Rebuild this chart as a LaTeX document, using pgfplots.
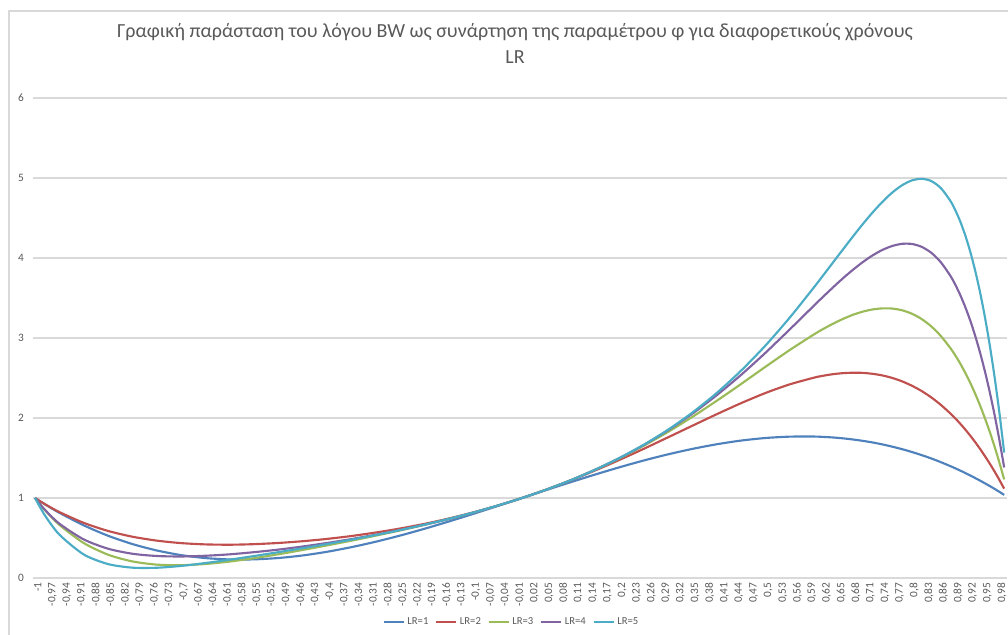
\documentclass[border=0pt]{standalone}
\usepackage{fontspec}
\setmainfont{Carlito}
\usepackage{pgfplots}
\pgfplotsset{compat=1.18}
\usepackage{pgfplotstable}
\definecolor{lr1}{HTML}{4F81BD}
\definecolor{lr2}{HTML}{C0504D}
\definecolor{lr3}{HTML}{9BBB59}
\definecolor{lr4}{HTML}{8064A2}
\definecolor{lr5}{HTML}{4BACC6}
\definecolor{txtgray}{HTML}{595959}
\definecolor{gridgray}{HTML}{D9D9D9}

% phi, BW ratio for LR=1..5
\pgfplotstableread{
phi   a     b     c     d     e
-1    1     1     1     1     1
-0.98 0.922 0.924 0.851 0.854 0.785
-0.95 0.815 0.824 0.664 0.679 0.542
-0.9  0.658 0.689 0.437 0.482 0.294
-0.85 0.528 0.588 0.291 0.366 0.174
-0.8  0.424 0.516 0.207 0.303 0.129
-0.75 0.344 0.467 0.167 0.275 0.128
-0.7  0.286 0.436 0.160 0.269 0.151
-0.65 0.249 0.420 0.175 0.278 0.187
-0.6  0.232 0.416 0.206 0.296 0.229
-0.55 0.233 0.423 0.248 0.323 0.275
-0.5  0.250 0.438 0.297 0.355 0.323
-0.45 0.282 0.460 0.351 0.394 0.373
-0.4  0.328 0.489 0.408 0.438 0.425
-0.35 0.386 0.525 0.467 0.487 0.480
-0.3  0.454 0.569 0.530 0.541 0.538
-0.25 0.531 0.619 0.595 0.601 0.600
-0.2  0.616 0.677 0.665 0.667 0.667
-0.15 0.707 0.744 0.738 0.739 0.739
-0.1  0.802 0.820 0.818 0.818 0.818
-0.05 0.900 0.905 0.905 0.905 0.905
0     1     1     1     1     1
0.05  1.100 1.105 1.105 1.105 1.105
0.1   1.198 1.220 1.222 1.222 1.222
0.15  1.293 1.344 1.352 1.353 1.353
0.2   1.384 1.476 1.495 1.499 1.500
0.25  1.469 1.615 1.654 1.663 1.666
0.3   1.546 1.759 1.827 1.848 1.854
0.35  1.614 1.904 2.015 2.055 2.069
0.4   1.672 2.048 2.216 2.286 2.314
0.45  1.718 2.186 2.426 2.540 2.593
0.5   1.750 2.313 2.641 2.816 2.907
0.55  1.767 2.421 2.851 3.109 3.257
0.6   1.768 2.505 3.047 3.408 3.638
0.62  1.763 2.530 3.118 3.526 3.796
0.64  1.756 2.549 3.183 3.641 3.956
0.66  1.745 2.561 3.241 3.752 4.115
0.68  1.731 2.566 3.291 3.855 4.273
0.7   1.714 2.564 3.330 3.950 4.426
0.72  1.694 2.552 3.357 4.033 4.570
0.74  1.670 2.532 3.370 4.101 4.702
0.76  1.642 2.501 3.368 4.150 4.817
0.78  1.611 2.459 3.347 4.177 4.908
0.8   1.576 2.405 3.305 4.176 4.969
0.82  1.537 2.339 3.239 4.141 4.990
0.84  1.495 2.259 3.147 4.067 4.963
0.86  1.448 2.164 3.025 3.947 4.874
0.88  1.397 2.054 2.870 3.773 4.710
0.89  1.370 1.993 2.779 3.662 4.594
0.9   1.342 1.927 2.678 3.535 4.454
0.91  1.313 1.857 2.566 3.389 4.285
0.92  1.283 1.782 2.444 3.224 4.087
0.93  1.251 1.702 2.310 3.037 3.854
0.94  1.219 1.618 2.164 2.828 3.586
0.95  1.185 1.528 2.005 2.595 3.277
0.96  1.151 1.434 1.834 2.335 2.925
0.97  1.115 1.334 1.648 2.048 2.526
0.98  1.078 1.228 1.447 1.731 2.075
0.99  1.039 1.117 1.232 1.382 1.568
}\bwdata

\begin{document}
\begin{tikzpicture}
\useasboundingbox (0,0) rectangle (756pt,476.25pt);
\draw[gridgray, line width=0.8pt] (6.75pt,0) -- (6.75pt,468pt) -- (756pt,468pt);
\node[font=\fontsize{15}{19.5}\selectfont, text=txtgray, align=center] at (386.25pt,444pt)
  {Γραφική παράσταση του λόγου BW ως συνάρτηση της παραμέτρου φ για διαφορετικούς χρόνους\\LR};
\begin{axis}[
  at={(24.45pt,42.75pt)}, anchor=south west,
  scale only axis, width=730.5pt, height=360pt,
  xmin=-1.005, xmax=0.995, ymin=0, ymax=6,
  axis line style={draw=none},
  major tick length=0pt,
  ymajorgrids, grid style={gridgray, line width=0.8pt},
  ytick={0,1,2,3,4,5,6}, yticklabels={0,1,2,3,4,5,6},
  yticklabel style={font=\fontsize{8.5}{9}\selectfont, text=txtgray, xshift=-3pt},
  xtick={-1,-0.97,-0.94,-0.91,-0.88,-0.85,-0.82,-0.79,-0.76,-0.73,-0.7,-0.67,-0.64,-0.61,-0.58,-0.55,-0.52,-0.49,-0.46,-0.43,-0.4,-0.37,-0.34,-0.31,-0.28,-0.25,-0.22,-0.19,-0.16,-0.13,-0.1,-0.07,-0.04,-0.01,0.02,0.05,0.08,0.11,0.14,0.17,0.2,0.23,0.26,0.29,0.32,0.35,0.38,0.41,0.44,0.47,0.5,0.53,0.56,0.59,0.62,0.65,0.68,0.71,0.74,0.77,0.8,0.83,0.86,0.89,0.92,0.95,0.98},
  xticklabels={{-1},{-0,97},{-0,94},{-0,91},{-0,88},{-0,85},{-0,82},{-0,79},{-0,76},{-0,73},{-0,7},{-0,67},{-0,64},{-0,61},{-0,58},{-0,55},{-0,52},{-0,49},{-0,46},{-0,43},{-0,4},{-0,37},{-0,34},{-0,31},{-0,28},{-0,25},{-0,22},{-0,19},{-0,16},{-0,13},{-0,1},{-0,07},{-0,04},{-0,01},{0,02},{0,05},{0,08},{0,11},{0,14},{0,17},{0,2},{0,23},{0,26},{0,29},{0,32},{0,35},{0,38},{0,41},{0,44},{0,47},{0,5},{0,53},{0,56},{0,59},{0,62},{0,65},{0,68},{0,71},{0,74},{0,77},{0,8},{0,83},{0,86},{0,89},{0,92},{0,95},{0,98}},
  xticklabel style={font=\fontsize{8.5}{9}\selectfont, text=txtgray, rotate=90, anchor=east, yshift=-2pt},
  legend style={at={(axis description cs:0.492,-0.0917)}, anchor=center, draw=none, fill=none,
    font=\fontsize{8}{9}\selectfont, text=txtgray, legend columns=5,
    /tikz/every even column/.append style={column sep=3pt}},
  legend image code/.code={\draw[#1] (0pt,0pt) -- (15pt,0pt);},
  every axis plot/.append style={line width=1.6pt, smooth, tension=0.45},
]
\addplot[lr1] table[x=phi, y=a] {\bwdata};
\addplot[lr2] table[x=phi, y=b] {\bwdata};
\addplot[lr3] table[x=phi, y=c] {\bwdata};
\addplot[lr4] table[x=phi, y=d] {\bwdata};
\addplot[lr5] table[x=phi, y=e] {\bwdata};
\legend{LR=1,LR=2,LR=3,LR=4,LR=5}
\end{axis}
\end{tikzpicture}
\end{document}
